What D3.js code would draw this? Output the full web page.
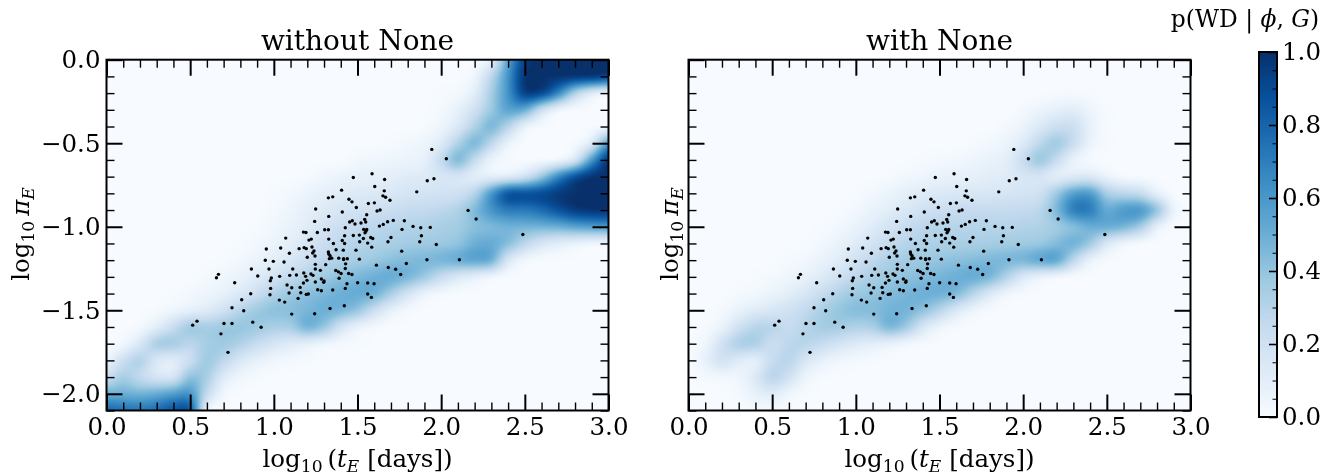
<!DOCTYPE html>
<html><head><meta charset="utf-8">
<script src="https://cdn.jsdelivr.net/npm/d3@7"></script>
<style>
html,body{margin:0;padding:0;background:#fff;width:1334px;height:474px;overflow:hidden}
#wrap{position:relative;width:1334px;height:474px}
canvas,svg{position:absolute;left:0;top:0}
text{font-family:"DejaVu Serif",serif;fill:#000}
</style></head><body><div id="wrap"></div>
<script>
const panelTitles=["without None","with None"];
const gridX=d3.range(31).map(i=>i/10);
const gridY=d3.range(22).map(i=>-i/10);
const colorStops=["#f7fbff","#deebf7","#c6dbef","#9ecae1","#6baed6","#4292c6","#2171b5","#08519c","#08306b"];
const xMajor=[0,0.5,1,1.5,2,2.5,3];
const yMajor=[0,-0.5,-1,-1.5,-2];
const cbarTicks=[0,0.2,0.4,0.6,0.8,1];
// percent probability, rows y=0..-2.1, columns x=0..3.0
const withoutNone=[
[0,0,0,0,0,0,0,0,0,0, 0,0,0,0,0,0,0,0,0,0, 0,0,0,8,55,95,100,100,100,100, 100],
[0,0,0,0,0,0,0,0,0,0, 0,0,0,0,0,0,0,0,0,0, 0,0,4,28,62,100,100,100,100,100, 95],
[0,0,0,0,0,0,0,0,0,0, 0,0,0,0,0,0,0,0,0,0, 1,2,10,35,62,96,94,68,30,10, 3],
[0,0,0,0,0,0,0,0,0,0, 0,0,0,0,0,0,0,0,0,0, 2,8,20,38,56,52,20,3,0,0, 0],
[0,0,0,0,0,0,0,0,0,0, 0,0,0,0,0,0,0,0,0,1, 5,14,32,48,30,6,0,0,0,0, 1],
[0,0,0,0,0,0,0,0,0,0, 0,0,0,0,0,0,0,1,3,5, 12,32,48,28,6,0,0,0,1,12, 60],
[0,0,0,0,0,0,0,0,0,0, 0,0,0,0,0,3,4,5,6,8, 25,48,25,5,1,0,0,2,14,60, 100],
[0,0,0,0,0,0,0,0,0,0, 0,0,1,4,6,8,9,10,12,13, 16,16,9,8,10,18,38,68,90,100, 100],
[0,0,0,0,0,0,0,0,0,0, 1,3,6,9,11,13,14,15,17,18, 19,20,30,62,90,90,92,97,100,100, 100],
[0,0,0,0,0,0,0,0,0,0, 2,5,9,13,17,19,21,23,25,26, 28,32,45,62,72,72,78,88,97,100, 100],
[0,0,0,0,0,0,0,0,0,1, 4,7,12,18,22,26,28,30,31,32, 34,36,42,45,48,48,48,50,55,58, 60],
[0,0,0,0,0,0,0,0,1,3, 6,10,17,23,28,30,32,34,36,37, 38,40,50,52,44,28,16,10,6,3, 2],
[0,0,0,0,0,0,0,1,3,6, 10,16,22,28,32,35,38,42,45,46, 48,52,56,52,15,3,0,0,0,0, 0],
[0,0,0,0,0,0,2,4,7,12, 19,26,32,37,42,46,50,52,48,38, 24,14,8,3,0,0,0,0,0,0, 0],
[0,0,0,0,1,3,5,8,14,22, 32,38,42,46,50,52,50,35,18,6, 2,0,0,0,0,0,0,0,0,0, 0],
[0,0,0,1,4,8,12,20,30,38, 42,43,47,50,48,40,22,8,2,0, 0,0,0,0,0,0,0,0,0,0, 0],
[0,0,2,10,24,38,35,38,40,38, 34,35,50,40,18,6,2,0,0,0, 0,0,0,0,0,0,0,0,0,0, 0],
[0,3,15,36,36,28,35,38,32,24, 17,12,8,4,2,1,0,0,0,0, 0,0,0,0,0,0,0,0,0,0, 0],
[5,22,33,14,10,22,38,28,15,8, 4,2,1,0,0,0,0,0,0,0, 0,0,0,0,0,0,0,0,0,0, 0],
[22,35,25,16,16,42,35,12,4,1, 0,0,0,0,0,0,0,0,0,0, 0,0,0,0,0,0,0,0,0,0, 0],
[50,50,48,52,58,62,25,3,0,0, 0,0,0,0,0,0,0,0,0,0, 0,0,0,0,0,0,0,0,0,0, 0],
[80,76,74,78,88,88,4,0,0,0, 0,0,0,0,0,0,0,0,0,0, 0,0,0,0,0,0,0,0,0,0, 0]];
const withNone=[
[0,0,0,0,0,0,0,0,0,0, 0,0,0,0,0,0,0,0,0,0, 0,0,0,0,0,0,0,0,0,0, 0],
[0,0,0,0,0,0,0,0,0,0, 0,0,0,0,0,0,0,0,0,0, 0,0,0,0,0,0,0,0,0,0, 0],
[0,0,0,0,0,0,0,0,0,0, 0,0,0,0,0,0,0,0,0,0, 0,0,1,1,1,0,0,0,0,0, 0],
[0,0,0,0,0,0,0,0,0,0, 0,0,0,0,0,0,0,0,0,0, 2,6,9,11,5,1,0,0,0,0, 0],
[0,0,0,0,0,0,0,0,0,0, 0,0,0,0,0,0,0,0,0,2, 6,14,22,22,8,1,0,0,0,0, 0],
[0,0,0,0,0,0,0,0,0,0, 0,0,0,0,0,0,0,1,3,6, 13,28,38,24,6,1,0,0,0,0, 0],
[0,0,0,0,0,0,0,0,0,0, 0,0,0,0,1,2,3,5,7,10, 24,40,24,6,1,0,0,0,0,0, 0],
[0,0,0,0,0,0,0,0,0,0, 0,0,1,3,5,7,8,9,11,12, 16,16,9,12,14,6,1,0,0,0, 0],
[0,0,0,0,0,0,0,0,0,0, 1,3,6,10,12,14,15,15,16,17, 18,20,38,58,60,34,28,24,8,0, 0],
[0,0,0,0,0,0,0,0,0,1, 3,7,11,15,20,22,24,25,25,25, 26,28,46,72,72,52,60,62,42,6, 0],
[0,0,0,0,0,0,0,0,1,3, 7,12,18,24,28,30,30,30,30,30, 31,32,36,42,50,52,48,36,8,0, 0],
[0,0,0,0,0,0,0,1,3,7, 12,19,25,30,32,33,34,34,35,36, 37,38,44,50,38,14,4,0,0,0, 0],
[0,0,0,0,0,0,2,3,7,12, 20,27,33,36,38,40,42,44,46,47, 48,55,56,28,6,1,0,0,0,0, 0],
[0,0,0,0,1,2,4,8,13,20, 28,34,38,41,44,47,50,52,48,32, 14,6,2,0,0,0,0,0,0,0, 0],
[0,0,0,2,3,6,10,16,24,32, 38,40,44,47,50,50,46,30,14,4, 1,0,0,0,0,0,0,0,0,0, 0],
[0,0,2,7,12,16,20,26,34,40, 44,44,48,48,42,30,14,5,1,0, 0,0,0,0,0,0,0,0,0,0, 0],
[0,1,6,20,30,30,24,30,36,36, 32,34,48,38,16,5,1,0,0,0, 0,0,0,0,0,0,0,0,0,0, 0],
[0,4,20,34,34,22,28,30,24,18, 13,10,7,3,1,0,0,0,0,0, 0,0,0,0,0,0,0,0,0,0, 0],
[0,8,20,12,8,24,30,16,8,4, 2,1,0,0,0,0,0,0,0,0, 0,0,0,0,0,0,0,0,0,0, 0],
[0,2,3,4,14,30,20,5,1,0, 0,0,0,0,0,0,0,0,0,0, 0,0,0,0,0,0,0,0,0,0, 0],
[0,0,0,2,8,12,4,1,0,0, 0,0,0,0,0,0,0,0,0,0, 0,0,0,0,0,0,0,0,0,0, 0],
[0,0,0,0,1,1,0,0,0,0, 0,0,0,0,0,0,0,0,0,0, 0,0,0,0,0,0,0,0,0,0, 0]];
const eventX=[1.250,1.328,1.244,1.177,1.192,1.260,1.304,1.326,1.071,1.210,1.224,1.328,0.955,1.041,1.151,1.181,1.194,1.228,1.240,1.232,1.093,1.326,1.328,1.246,1.200,1.332,0.949,0.997,1.061,1.248,1.310,0.866,0.971,1.113,1.248,1.278,0.669,0.657,0.904,1.035,1.095,1.135,1.179,1.222,1.234,1.190,0.985,0.979,1.198,1.284,1.300,1.298,1.248,1.177,0.766,1.079,1.107,1.157,0.981,1.262,1.284,1.091,1.161,1.194,1.206,0.862,0.977,1.145,0.808,1.033,1.065,0.750,0.820,1.107,1.244,1.336,0.874,0.702,0.750,0.924,
1.587,1.475,1.662,1.917,1.957,1.603,1.405,1.660,1.854,1.652,1.668,1.326,1.352,1.449,1.467,1.694,1.565,1.601,1.493,1.409,1.617,1.635,1.555,1.543,1.549,1.453,1.469,1.485,1.521,1.631,1.654,1.680,1.714,1.780,1.832,1.878,1.935,1.766,1.427,1.537,1.555,1.545,1.551,1.423,1.475,1.511,1.535,1.579,1.591,1.700,1.882,1.409,1.513,1.682,1.872,1.356,1.423,1.561,1.585,1.971,1.372,1.415,1.491,1.764,1.336,1.346,1.388,1.417,1.439,1.417,1.511,1.915,1.792,1.429,1.613,
1.427,1.684,1.728,1.758,1.370,1.386,1.402,1.447,1.467,1.390,1.437,1.501,1.561,1.599,1.427,1.352,1.561,1.583,1.421,
0.515,0.541,0.684,0.726,1.944,2.031,2.161,2.209,2.488,2.109];
const eventY=[-0.894,-0.938,-0.968,-1.032,-1.034,-1.034,-1.018,-1.018,-1.068,-1.080,-1.074,-1.074,-1.133,-1.127,-1.131,-1.125,-1.131,-1.121,-1.145,-1.157,-1.159,-1.151,-1.163,-1.175,-1.183,-1.191,-1.201,-1.207,-1.211,-1.225,-1.227,-1.253,-1.253,-1.253,-1.253,-1.261,-1.285,-1.305,-1.295,-1.297,-1.291,-1.289,-1.277,-1.283,-1.291,-1.297,-1.307,-1.323,-1.321,-1.313,-1.325,-1.333,-1.331,-1.337,-1.335,-1.349,-1.365,-1.363,-1.369,-1.377,-1.383,-1.397,-1.395,-1.405,-1.403,-1.401,-1.407,-1.429,-1.437,-1.439,-1.451,-1.485,-1.503,-1.523,-1.521,-1.489,-1.571,-1.579,-1.579,-1.602,
-0.683,-0.705,-0.717,-0.725,-0.713,-0.759,-0.781,-0.785,-0.791,-0.815,-0.823,-0.827,-0.821,-0.835,-0.851,-0.841,-0.861,-0.857,-0.885,-0.912,-0.906,-0.900,-0.928,-0.956,-0.972,-0.972,-0.964,-0.984,-0.978,-0.996,-0.986,-0.970,-0.962,-0.964,-0.998,-1.006,-1.004,-1.016,-1.006,-1.016,-1.016,-1.036,-1.026,-1.054,-1.052,-1.050,-1.070,-1.064,-1.070,-1.064,-1.054,-1.082,-1.090,-1.090,-1.090,-1.100,-1.100,-1.098,-1.122,-1.106,-1.138,-1.140,-1.140,-1.146,-1.174,-1.188,-1.188,-1.196,-1.192,-1.192,-1.194,-1.198,-1.220,-1.222,-1.230,
-1.250,-1.244,-1.254,-1.286,-1.262,-1.270,-1.280,-1.280,-1.286,-1.308,-1.341,-1.335,-1.337,-1.341,-1.369,-1.379,-1.403,-1.423,-1.473,
-1.589,-1.565,-1.641,-1.752,-0.537,-0.593,-0.902,-0.954,-1.046,-1.198];

const W=1334,H=474;
const wrap=d3.select("#wrap");
const color=d3.scaleLinear().domain(colorStops.map((c,i)=>i/(colorStops.length-1))).range(colorStops).clamp(true);
const cv=wrap.append("canvas").attr("width",W).attr("height",H).node();
const ctx=cv.getContext("2d");
const svg=wrap.append("svg").attr("width",W).attr("height",H);
const FS=24.5;
// Mitchell-Netravali smoothing used only to paint the gridded field
const M=1/3;
function cr(p0,p1,p2,p3,t){
  const t2=t*t,t3=t2*t;
  const w0=((-M-6*M)*t3+(3*M+12*M)*t2+(-3*M-6*M)*t+M)/6;
  const w1=((12-9*M-6*M)*t3+(-18+12*M+6*M)*t2+(6-2*M))/6;
  const w2=((-12+9*M+6*M)*t3+(18-15*M-12*M)*t2+(3*M+6*M)*t+M)/6;
  const w3=((M+6*M)*t3-6*M*t2)/6;
  return w0*p0+w1*p1+w2*p2+w3*p3;
}
function sample(g,u,v){
  const nx=gridX.length,ny=gridY.length;
  const i=Math.min(nx-2,Math.max(0,Math.floor(u))),j=Math.min(ny-2,Math.max(0,Math.floor(v)));
  const tx=u-i,ty=v-j,rows=[];
  for(let b=-1;b<=2;b++){
    const r=g[Math.max(0,Math.min(ny-1,j+b))];
    const at=k=>r[Math.max(0,Math.min(nx-1,k))];
    rows.push(cr(at(i-1),at(i),at(i+1),at(i+2),tx));
  }
  return cr(rows[0],rows[1],rows[2],rows[3],ty)/100;
}
function drawPanel(i,grid,x0){
  const x=d3.scaleLinear().domain([0,3]).range([x0,x0+502]);
  const y=d3.scaleLinear().domain([0,-2.1]).range([59.7,410.5]);
  const u=d3.scaleLinear().domain([gridX[0],gridX[30]]).range([0,30]);
  const v=d3.scaleLinear().domain([gridY[0],gridY[21]]).range([0,21]);
  const pxL=Math.floor(x(0)),pxR=Math.ceil(x(3)),pyT=Math.floor(y(0)),pyB=Math.ceil(y(-2.1));
  for(let py=pyT;py<pyB;py++)for(let px=pxL;px<pxR;px++){
    const val=sample(grid,u(x.invert(px+0.5)),v(y.invert(py+0.5)));
    ctx.fillStyle=color(Math.max(0,Math.min(1,val)));
    ctx.fillRect(px,py,1,1);
  }
  const g=svg.append("g");
  g.append("g").selectAll("circle").data(eventX).join("circle")
    .attr("cx",d=>x(d)).attr("cy",(d,k)=>y(eventY[k])).attr("r",1.7).attr("fill","#000");
  const xMinor=d3.range(0,31).map(d=>d/10).filter(d=>!xMajor.includes(d));
  const yMinor=d3.range(0,22).map(d=>-d/10).filter(d=>!yMajor.includes(d));
  const h=y(-2.1),t=y(0),l=x(0),r=x(3);
  const mk=(axis,tr,vals,len,w,labels,pad)=>{
    const a=axis.tickValues(vals).tickSizeInner(-len).tickSizeOuter(0).tickPadding(pad||0)
      .tickFormat(labels?d3.format(".1f"):"");
    const s=g.append("g").attr("transform",tr).call(a);
    s.select(".domain").remove();
    s.selectAll("line").attr("stroke","#000").attr("stroke-width",w);
    s.selectAll("text").attr("font-size",FS).attr("font-family","DejaVu Serif").attr("fill","#000");
    return s;
  };
  mk(d3.axisBottom(x),`translate(0,${h})`,xMajor,16,2,true,7);
  mk(d3.axisBottom(x),`translate(0,${h})`,xMinor,8,1.4,false);
  mk(d3.axisTop(x),`translate(0,${t})`,xMajor,16,2,false);
  mk(d3.axisTop(x),`translate(0,${t})`,xMinor,8,1.4,false);
  mk(d3.axisLeft(y),`translate(${l},0)`,yMajor,16,2,i===0,6);
  mk(d3.axisLeft(y),`translate(${l},0)`,yMinor,8,1.4,false);
  mk(d3.axisRight(y),`translate(${r},0)`,yMajor,16,2,false);
  mk(d3.axisRight(y),`translate(${r},0)`,yMinor,8,1.4,false);
  g.append("rect").attr("x",l).attr("y",t).attr("width",r-l).attr("height",h-t)
    .attr("fill","none").attr("stroke","#000").attr("stroke-width",2);
  g.append("text").attr("x",(l+r)/2).attr("y",50).attr("text-anchor","middle").attr("font-size",28).text(panelTitles[i]);
  const xl=g.append("text").attr("x",(l+r)/2).attr("y",467).attr("text-anchor","middle").attr("font-size",FS);
  mathLabel(xl,[["log"],["10","sub"],["\u2009("],["t","it"],["E","itsub"],[" [days])"]]);
  const lx=i===0?29:678;
  const yl=g.append("text").attr("transform",`translate(${lx},234) rotate(-90)`).attr("text-anchor","middle").attr("font-size",FS);
  mathLabel(yl,[["log"],["10","sub"],["\u2009"],["\u03c0","it"],["E","itsub"]]);
}
function mathLabel(sel,parts){
  let shift=0;
  parts.forEach(([s,k])=>{
    const sub=k==="sub"||k==="itsub";
    const target=sub?5:0;
    const ts=sel.append("tspan").text(s).attr("dy",target-shift);
    shift=target;
    if(sub)ts.attr("font-size",FS*0.7);
    if(k==="it"||k==="itsub")ts.attr("font-style","italic");
  });
}
drawPanel(0,withoutNone,106.5);
drawPanel(1,withNone,688.5);

// colorbar
const cb=d3.scaleLinear().domain([0,1]).range([417,52]);
const cbs=svg.append("g");
cbs.selectAll("rect.s").data(d3.range(0,1,1/365)).join("rect").attr("class","s")
  .attr("x",1259).attr("width",18).attr("y",d=>cb(d)-1.2).attr("height",1.4).attr("fill",d=>color(d));
const cbMinor=d3.range(0,21).map(d=>d/20).filter(d=>!cbarTicks.some(t=>Math.abs(t-d)<1e-6));
const cbAx=cbs.append("g").attr("transform","translate(1277,0)").call(d3.axisRight(cb).tickValues(cbarTicks).tickSizeInner(-8).tickSizeOuter(0).tickPadding(5).tickFormat(d3.format(".1f")));
cbAx.select(".domain").remove();
cbAx.selectAll("line").attr("stroke","#000").attr("stroke-width",1.6);
cbAx.selectAll("text").attr("font-size",FS).attr("font-family","DejaVu Serif").attr("fill","#000");
const cbAx2=cbs.append("g").attr("transform","translate(1277,0)").call(d3.axisRight(cb).tickValues(cbMinor).tickSizeInner(-4.5).tickSizeOuter(0).tickFormat(""));
cbAx2.select(".domain").remove();
cbAx2.selectAll("line").attr("stroke","#000").attr("stroke-width",1);
cbs.append("rect").attr("x",1259).attr("y",52).attr("width",18).attr("height",365).attr("fill","none").attr("stroke","#000").attr("stroke-width",2);
const ct=svg.append("text").attr("x",1245).attr("y",27).attr("text-anchor","middle").attr("font-size",23.4);
ct.append("tspan").text("p(WD | ");
ct.append("tspan").attr("font-style","italic").text("\u03d5");
ct.append("tspan").text(", ");
ct.append("tspan").attr("font-style","italic").text("G");
ct.append("tspan").text(")");
</script></body></html>
